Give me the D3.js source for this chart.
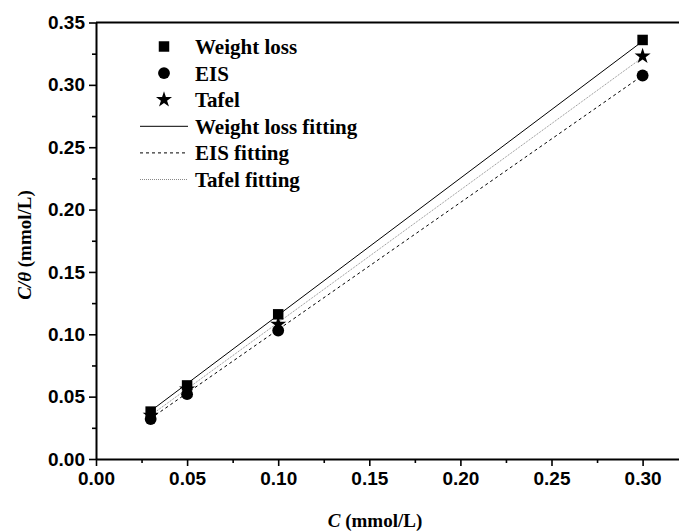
<!DOCTYPE html>
<html>
<head>
<meta charset="utf-8">
<script src="https://cdn.jsdelivr.net/npm/d3@7"></script>
<style>
  body { margin: 0; background: #fff; }
  svg { display: block; }
</style>
</head>
<body>
<svg id="chart" width="679" height="531"></svg>
<script>
// concentrations (mmol/L)
const conc = [0.03, 0.05, 0.10, 0.30];
// C/theta values
const weightLoss = [0.038, 0.059, 0.116, 0.336];
const eis = [0.032, 0.052, 0.103, 0.3075];
const tafel = [0.035, 0.056, 0.108, 0.323];
// fitted line end points at C = 0.03 and C = 0.30
const fitC = [0.03, 0.30];
const weightLossFit = [0.0385, 0.335];
const eisFit = [0.0325, 0.3075];
const tafelFit = [0.035, 0.322];

const xTicks = [0, 0.05, 0.10, 0.15, 0.20, 0.25, 0.30];
const yTicks = [0, 0.05, 0.10, 0.15, 0.20, 0.25, 0.30, 0.35];

const svg = d3.select("#chart");
const plotLeft = 96, plotTop = 22.5, plotBottom = 459;

const x = d3.scaleLinear().domain([0, 0.325]).range([plotLeft, plotLeft + 0.325 / 0.05 * 91.1]);
const y = d3.scaleLinear().domain([0, 0.35]).range([plotBottom, plotTop]);

// minor ticks
const xMinor = d3.range(0.025, 0.33, 0.05);
const yMinor = d3.range(0.025, 0.35, 0.05);

svg.append("g")
  .attr("transform", "translate(0," + plotBottom + ")")
  .call(d3.axisBottom(x).tickValues(xTicks).tickFormat(d3.format(".2f")).tickSizeInner(7).tickSizeOuter(0).tickPadding(6));
svg.append("g")
  .attr("transform", "translate(0," + plotBottom + ")")
  .call(d3.axisBottom(x).tickValues(xMinor).tickFormat("").tickSize(4))
  .select(".domain").remove();

svg.append("g")
  .attr("transform", "translate(" + plotLeft + ",0)")
  .call(d3.axisLeft(y).tickValues(yTicks).tickFormat(d3.format(".2f")).tickSizeInner(7).tickSizeOuter(0).tickPadding(4));
svg.append("g")
  .attr("transform", "translate(" + plotLeft + ",0)")
  .call(d3.axisLeft(y).tickValues(yMinor).tickFormat("").tickSize(4))
  .select(".domain").remove();

svg.selectAll(".domain").attr("stroke", "#000").attr("stroke-width", 2);
svg.selectAll(".tick line").attr("stroke", "#000").attr("stroke-width", 1.6);
svg.selectAll(".tick text")
  .attr("font-family", "Liberation Sans, Arial, sans-serif")
  .attr("font-weight", "bold")
  .attr("font-size", 19)
  .attr("fill", "#000");

// top frame line
svg.append("line")
  .attr("x1", x(0)).attr("x2", 679)
  .attr("y1", y(0.35)).attr("y2", y(0.35))
  .attr("stroke", "#000").attr("stroke-width", 2);

// fitted lines
const fits = [
  { v: weightLossFit, dash: null, color: "#000", w: 1 },
  { v: eisFit, dash: "3,3", color: "#000", w: 1 },
  { v: tafelFit, dash: "1,1", color: "#888", w: 1 }
];
const line = d3.line().x(d => x(d[0])).y(d => y(d[1]));
fits.forEach(f => {
  svg.append("path")
    .datum(fitC.map((c, i) => [c, f.v[i]]))
    .attr("d", line)
    .attr("fill", "none")
    .attr("stroke", f.color)
    .attr("stroke-width", f.w)
    .attr("stroke-dasharray", f.dash);
});

// markers
const sq = d3.symbol().type(d3.symbolSquare).size(110);
const ci = d3.symbol().type(d3.symbolCircle).size(110);
const st = d3.symbol().type(d3.symbolStar).size(80);

svg.selectAll(".wl").data(conc).enter().append("path")
  .attr("d", sq).attr("transform", (d, i) => "translate(" + x(d) + "," + y(weightLoss[i]) + ")");
svg.selectAll(".eis").data(conc).enter().append("path")
  .attr("d", ci).attr("transform", (d, i) => "translate(" + x(d) + "," + y(eis[i]) + ")");
svg.selectAll(".tf").data(conc).enter().append("path")
  .attr("d", st).attr("transform", (d, i) => "translate(" + x(d) + "," + y(tafel[i]) + ")");

// legend
const legend = svg.append("g").attr("font-family", "Liberation Serif, Times New Roman, serif")
  .attr("font-weight", "bold").attr("font-size", 21);
const items = [
  { label: "Weight loss", sym: sq },
  { label: "EIS", sym: ci },
  { label: "Tafel", sym: st },
  { label: "Weight loss fitting", f: fits[0] },
  { label: "EIS fitting", f: fits[1] },
  { label: "Tafel fitting", f: fits[2] }
];
items.forEach((it, i) => {
  const ly = 46.5 + i * 26.6;
  if (it.sym) {
    legend.append("path").attr("d", it.sym).attr("transform", "translate(164," + ly + ")");
  } else {
    legend.append("line").attr("x1", 140).attr("x2", 188).attr("y1", ly).attr("y2", ly)
      .attr("stroke", it.f.color).attr("stroke-width", it.f.w).attr("stroke-dasharray", it.f.dash);
  }
  legend.append("text").attr("x", 195).attr("y", ly + 7.5).text(it.label);
});

// axis titles
const xt = svg.append("text").attr("x", 375).attr("y", 527).attr("text-anchor", "middle")
  .attr("font-family", "Liberation Serif, Times New Roman, serif").attr("font-weight", "bold").attr("font-size", 19);
xt.append("tspan").attr("font-style", "italic").text("C");
xt.append("tspan").text(" (mmol/L)");

const yt = svg.append("text").attr("transform", "translate(31,245) rotate(-90)").attr("text-anchor", "middle")
  .attr("font-family", "Liberation Serif, Times New Roman, serif").attr("font-weight", "bold").attr("font-size", 19);
yt.append("tspan").attr("font-style", "italic").text("C/θ");
yt.append("tspan").text(" (mmol/L)");
</script>
</body>
</html>
